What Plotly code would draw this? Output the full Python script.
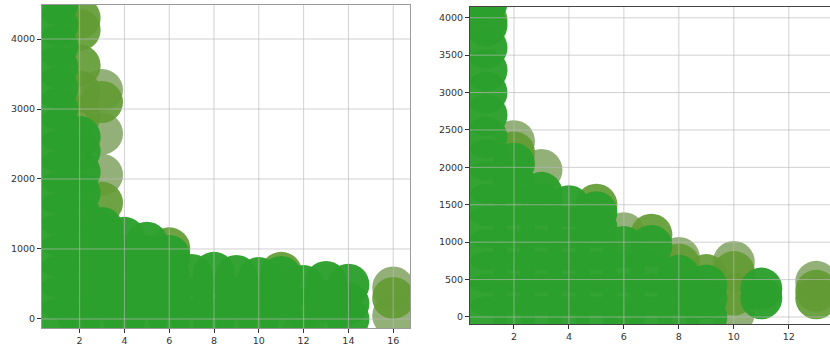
import plotly.graph_objects as go

# ---------------- data: left panel ----------------
left_green_x = [1]*17 + [2]*10 + [3]*6 + [4]*5 + [5]*5 + [6]*4 + [7]*3 + [8]*3 + [9]*3 + [10]*3 + [11]*3 + [12]*2 + [13]*3 + [14]*3
left_green_y = [0, 300, 600, 900, 1200, 1500, 1800, 2100, 2400, 2700, 3000, 3300, 3600, 3900, 4200, 4500, 4700,
                0, 300, 600, 900, 1200, 1500, 1800, 2100, 2400, 2600,
                0, 300, 600, 900, 1200, 1300,
                0, 300, 600, 900, 1160,
                0, 300, 600, 900, 1090,
                0, 300, 600, 900,
                0, 300, 630,
                0, 300, 660,
                0, 300, 615,
                0, 300, 585,
                0, 300, 600,
                150, 470,
                0, 250, 530,
                0, 220, 490]
left_olive_x = [2, 2, 2, 2, 2, 3, 3, 6, 11, 16]
left_olive_y = [4300, 4130, 3620, 3250, 2900, 3100, 1660, 1010, 660, 300]
left_faded_x = [3, 3, 3, 12, 16, 16]
left_faded_y = [3270, 2650, 2060, -150, 450, 50]

# ---------------- data: right panel ----------------
right_green_x = [1]*15 + [2]*8 + [3]*7 + [4]*6 + [5]*6 + [6]*4 + [7]*4 + [8]*3 + [9]*3 + [11]*2
right_green_y = [0, 300, 600, 900, 1200, 1500, 1800, 2100, 2400, 2700, 3000, 3300, 3600, 3900, 4200,
                 0, 300, 600, 900, 1200, 1500, 1800, 2050,
                 0, 300, 600, 900, 1200, 1500, 1660,
                 0, 300, 600, 900, 1200, 1480,
                 0, 300, 600, 900, 1200, 1400,
                 0, 300, 600, 935,
                 0, 300, 600, 950,
                 0, 300, 550,
                 0, 250, 420,
                 250, 380]
right_olive_x = [1, 2, 5, 7, 8, 9, 10, 10, 13, 13]
right_olive_y = [3970, 2200, 1500, 1100, 700, 560, 600, 300, 350, 250]
right_faded_x = [2, 3, 6, 6, 8, 10, 10, 13]
right_faded_y = [2350, 1965, 1120, -100, 790, 735, 50, 470]

# ticks
left_xticks = [2, 4, 6, 8, 10, 12, 14, 16]
left_yticks = [0, 1000, 2000, 3000, 4000]
right_xticks = [2, 4, 6, 8, 10, 12]
right_yticks = [0, 500, 1000, 1500, 2000, 2500, 3000, 3500, 4000]

GREEN = "rgba(44,160,44,0.97)"
OLIVE = "rgba(98,155,52,0.92)"
FADED = "rgba(128,162,96,0.85)"
MSIZE = 42

fig = go.Figure()

def add_panel(xa, ya, fx, fy, ox, oy, gx, gy):
    for xs, ys, col in [(fx, fy, FADED), (ox, oy, OLIVE), (gx, gy, GREEN)]:
        fig.add_trace(go.Scatter(x=xs, y=ys, mode="markers", xaxis=xa, yaxis=ya,
                                 marker=dict(size=MSIZE, color=col, line=dict(width=0)),
                                 showlegend=False, hoverinfo="skip", cliponaxis=True))

add_panel("x", "y", left_faded_x, left_faded_y, left_olive_x, left_olive_y, left_green_x, left_green_y)
add_panel("x2", "y2", right_faded_x, right_faded_y, right_olive_x, right_olive_y, right_green_x, right_green_y)

GRID = "rgba(185,185,185,0.65)"
for v in left_xticks:
    fig.add_shape(type="line", xref="x", yref="y domain", x0=v, x1=v, y0=0, y1=1,
                  line=dict(color=GRID, width=1), layer="above")
for v in left_yticks:
    fig.add_shape(type="line", xref="x domain", yref="y", x0=0, x1=1, y0=v, y1=v,
                  line=dict(color=GRID, width=1), layer="above")
for v in right_xticks:
    fig.add_shape(type="line", xref="x2", yref="y2 domain", x0=v, x1=v, y0=0, y1=1,
                  line=dict(color=GRID, width=1), layer="above")
for v in right_yticks:
    fig.add_shape(type="line", xref="x2 domain", yref="y2", x0=0, x1=1, y0=v, y1=v,
                  line=dict(color=GRID, width=1), layer="above")

tickfont = dict(family="DejaVu Sans", size=9.5, color="#333333")
common = dict(showgrid=False, zeroline=False, ticks="outside", ticklen=4, tickwidth=1,
              tickcolor="#333333", tickfont=tickfont, showline=True, mirror=True,
              automargin=False)

fig.update_layout(
    template="none",
    width=830, height=351,
    margin=dict(l=0, r=0, t=0, b=0, pad=0),
    paper_bgcolor="white", plot_bgcolor="white",
    xaxis=dict(domain=[42/830, 410/830], range=[0.32, 16.75], tickvals=left_xticks,
               linecolor="#9a9a9a", anchor="y", **common),
    yaxis=dict(domain=[1-328/351, 1-5/351], range=[-129, 4486], tickvals=left_yticks,
               linecolor="#9a9a9a", anchor="x", **common),
    xaxis2=dict(domain=[470/830, 1.0], range=[0.4, 13.5], tickvals=right_xticks,
                linecolor="#444444", anchor="y2", **common),
    yaxis2=dict(domain=[1-324/351, 1-7/351], range=[-94, 4144], tickvals=right_yticks,
                linecolor="#444444", anchor="x2", **common),
)

fig.write_html("out.html", config={"displayModeBar": False},
               post_script="document.body.style.margin='0';document.body.style.overflow='hidden';")
